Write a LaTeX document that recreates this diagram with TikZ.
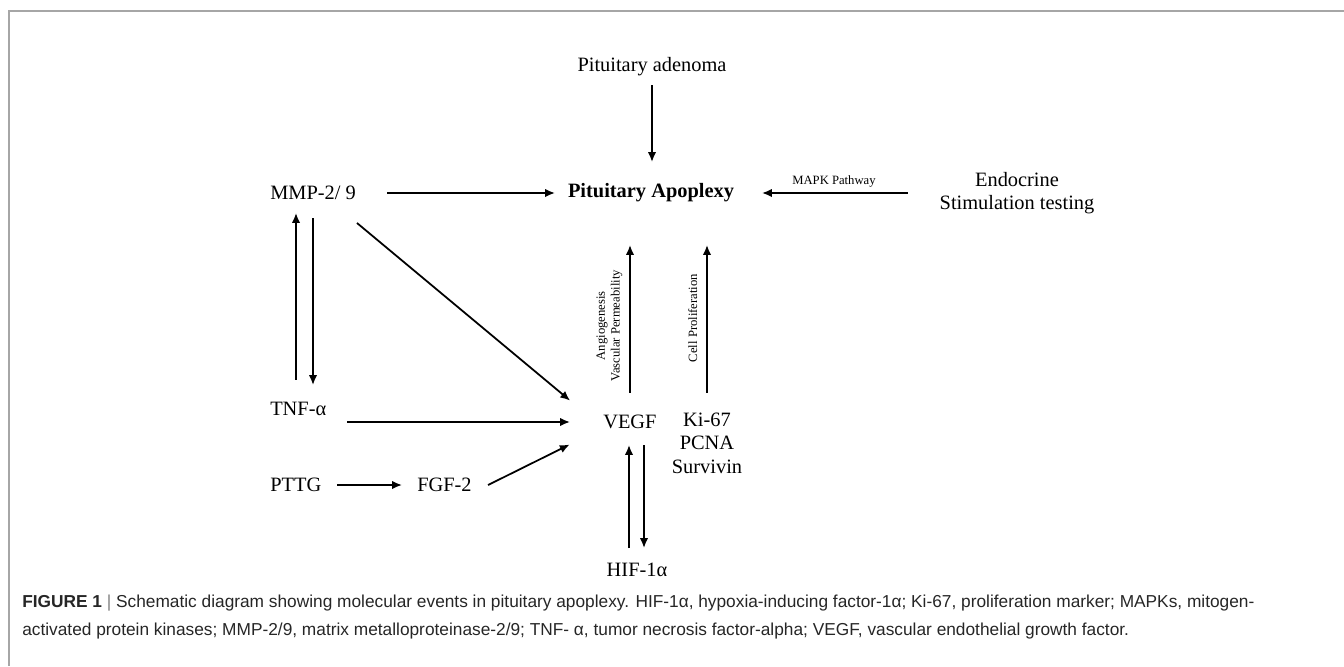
\documentclass[tikz,border=0pt]{standalone}
\usepackage{fontspec}
\setmainfont{Liberation Serif}
\newfontfamily\capfont{Liberation Sans}
\usetikzlibrary{arrows.meta}

\begin{document}
\begin{tikzpicture}[x=0.025cm, y=-0.025cm,
    txt/.style={inner sep=0, align=center, font=\fontsize{14.5}{16.6}\selectfont},
    small/.style={inner sep=0, align=center, font=\fontsize{9}{10.5}\selectfont},
    sidelabel/.style={small, rotate=90, anchor=south, outer sep=5.5pt},
    arr/.style={line width=1.25pt, -{Latex[length=7pt,width=6pt]}}]
    \useasboundingbox (0,0) rectangle (1344,666);
    % frame
    \draw[gray!70, line width=1.2pt] (9,666) -- (9,11) -- (1344,11);

    % top row
    \node[txt] (adenoma) at (652,67) {Pituitary adenoma};
    \node[txt, font=\fontsize{14.5}{16.6}\selectfont\bfseries] (apoplexy) at (651,193) {Pituitary Apoplexy};
    \node[txt] (endo) at (1017,193) {Endocrine\\Stimulation testing};
    \node[txt, anchor=west] (mmp) at (270,193) {MMP-2/ 9};

    % lower rows
    \node[txt, anchor=west] (tnf) at (270,409) {TNF-α};
    \node[txt, anchor=west] (pttg) at (270,485) {PTTG};
    \node[txt, anchor=west] (fgf) at (417,485) {FGF-2};
    \node[txt, anchor=west] (vegf) at (603,422) {VEGF};
    \node[txt] (ki) at (707,443) {Ki-67\\PCNA\\Survivin};
    \node[txt] (hif) at (637,570) {HIF-1α};

    % arrows into the apoplexy
    \draw[arr, shorten <=0.45cm, shorten >=0.775cm] (adenoma.center) -- (adenoma.center |- apoplexy.center);
    \draw[arr, shorten <=2.925cm, shorten >=2.4cm] (mmp.west) -- (apoplexy.center);
    \draw[arr, shorten <=2.725cm, shorten >=2.775cm] (endo.center) -- (apoplexy.center)
        node[small, midway, above=0.11cm] (mapk) {MAPK Pathway};
    \draw[arr, shorten <=0.725cm, shorten >=1.3cm] ([xshift=0.675cm]vegf.west) -- ([xshift=0.675cm]vegf.west |- apoplexy.center)
        node[sidelabel, pos=0.42] (angio) {Angiogenesis\\Vascular Permeability};
    \draw[arr, shorten <=1.25cm, shorten >=1.3cm] (ki.center) -- (ki.center |- apoplexy.center)
        node[sidelabel, pos=0.5, outer sep=7pt] (prolif) {Cell Proliferation};

    % MMP and TNF
    \draw[arr, shorten <=0.725cm, shorten >=0.5cm] ([xshift=0.65cm]tnf.west) -- ([xshift=0.65cm]mmp.west);
    \draw[arr, shorten <=0.625cm, shorten >=0.6cm] ([xshift=1.075cm]mmp.west) -- ([xshift=1.075cm]tnf.west);

    % arrows into VEGF
    \draw[arr, shorten <=1.17cm, shorten >=1.07cm] ([xshift=1.275cm]mmp.west) -- ([yshift=-0.15cm]vegf.west);
    \draw[arr, shorten <=1.925cm, shorten >=0.825cm] (tnf.west |- vegf.west) -- (vegf.west);
    \draw[arr, shorten <=1.675cm, shorten >=0.375cm] (pttg.west) -- (fgf.west);
    \draw[arr, shorten <=0.45cm, shorten >=0.93cm] ([yshift=-0.2cm]fgf.east) -- ([yshift=-0.15cm]vegf.west);

    % VEGF and HIF
    \draw[arr, shorten <=0.55cm, shorten >=0.575cm] ([xshift=-0.2cm]hif.center) -- ([xshift=-0.2cm]hif.center |- vegf.west);
    \draw[arr, shorten <=0.575cm, shorten >=0.55cm] ([xshift=0.175cm]hif.center |- vegf.west) -- ([xshift=0.175cm]hif.center);

    % caption
    \node[anchor=north west, inner sep=0, align=left, text=black!85,
        font=\capfont\fontsize{12.3}{19.9}\selectfont] (caption) at (22,595)
        {\textbf{FIGURE 1} {\color{gray}|} Schematic diagram showing molecular events in pituitary apoplexy. HIF-1α, hypoxia-inducing factor-1α; Ki-67, proliferation marker; MAPKs, mitogen-\\activated protein kinases; MMP-2/9, matrix metalloproteinase-2/9; TNF- α, tumor necrosis factor-alpha; VEGF, vascular endothelial growth factor.};
\end{tikzpicture}
\end{document}
